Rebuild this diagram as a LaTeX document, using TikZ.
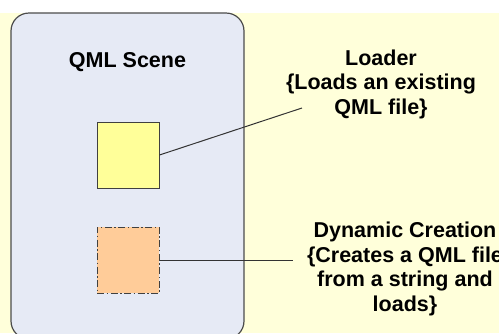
\documentclass[tikz,border=0pt]{standalone}
\usepackage{fontspec}
\setmainfont{Liberation Sans}
\definecolor{bgyellow}{HTML}{FFFFDA}
\definecolor{scenebg}{HTML}{E6EAF5}
\definecolor{loadfill}{HTML}{FFFF99}
\definecolor{dynfill}{HTML}{FFCC99}
\begin{document}
\begin{tikzpicture}[x=1pt,y=-1pt, % 像素坐标, y 向下
    txt/.style={font=\fontsize{21.5}{24.5}\selectfont\bfseries, align=center, inner sep=0pt},
    blk/.style={draw=black!75, line width=1pt, minimum width=62pt, minimum height=66pt, inner sep=0pt}]
    % 画布与背景
    \useasboundingbox (0,0) rectangle (499,333);
    \fill[bgyellow] (0,13) rectangle (499,333);
    % 场景框 QML Scene
    \node[draw=black!70, line width=1.2pt, fill=scenebg, rounded corners=18pt, minimum width=233pt, minimum height=326pt, inner sep=0pt] (scene) at (127.5,176) {};
    \node[txt, anchor=base] (title) at (127.5,67) {QML Scene};
    % Loader 方块
    \node[blk, fill=loadfill] (loadbox) at (128,155) {};
    % 动态创建方块(点划线)
    \node[blk, fill=dynfill, dash pattern=on 7pt off 2.5pt on 1.5pt off 2.5pt] (dynbox) at (128,260) {};
    % 说明文字
    \node[txt, anchor=north] (loadtext) at (381,49.5) {Loader\\\{Loads an existing\\QML file\}};
    \node[txt, anchor=north] (dyntext) at (405,222) {Dynamic Creation\\\{Creates a QML file\\from a string and\\loads\}};
    % 连线
    \coordinate (loadend) at (302,108);
    \coordinate (dynend) at (293,260);
    \draw[black!80, line width=1pt] (loadbox.east) -- (loadend);
    \draw[black!80, line width=1pt] (dynbox.east) -- (dynend);
\end{tikzpicture}
\end{document}
